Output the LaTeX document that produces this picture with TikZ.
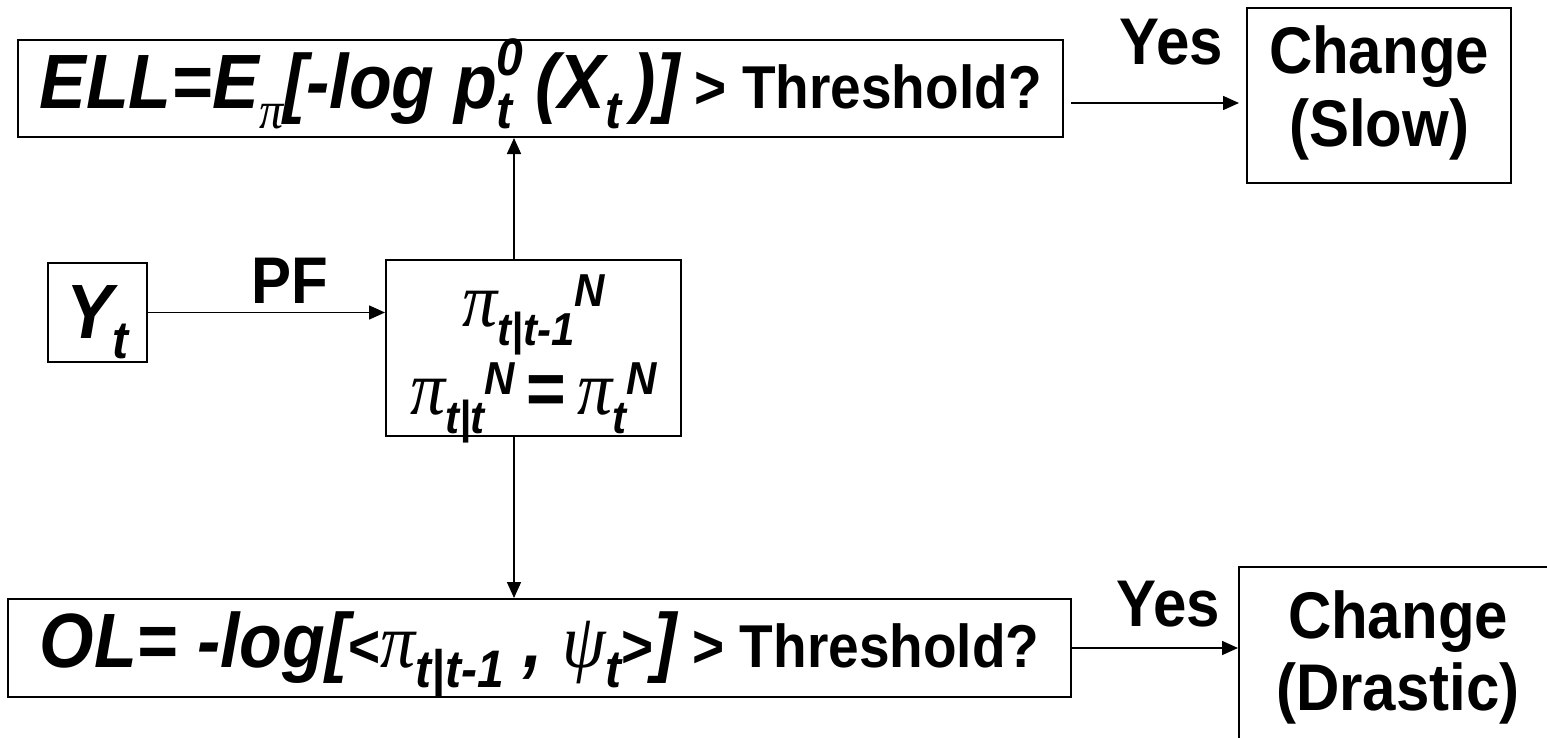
\documentclass[tikz,border=0pt]{standalone}
\usepackage{graphicx}
\usepackage{fontspec}
\setmainfont{Liberation Sans}
\newfontfamily\grk{Liberation Serif}
\usetikzlibrary{arrows.meta,calc}

\newcommand{\tall}[1]{\scalebox{1}[1.1]{#1}}
\newcommand{\itbig}{\fontsize{35}{36}\selectfont\itshape}
\newcommand{\rmsm}{\fontsize{27.5}{33}\selectfont\upshape}
\newcommand{\subsz}{24}
\newcommand{\lo}[1]{\raisebox{-0.3em}[0pt][0pt]{\fontsize{\subsz}{\subsz}\selectfont\itshape #1}}
\newcommand{\hi}[2][0.5em]{\raisebox{#1}[0pt][0pt]{\fontsize{\subsz}{\subsz}\selectfont\itshape #2}}
\newcommand{\gpi}{{\grk\itshape\mdseries π}}
\newcommand{\gpsi}{{\grk\itshape\mdseries ψ}}

\begin{document}
\begin{tikzpicture}[x=0.5pt,y=-0.5pt,
  box/.style={draw, line width=1pt, inner sep=0pt, align=center},
  arr/.style={-{Triangle[length=8pt,width=7pt]}, line width=0.8pt},
  lbl/.style={inner sep=0pt},
  every node/.style={font=\bfseries\fontsize{30}{33}\selectfont}]
  \useasboundingbox (0,0) rectangle (1547,738);
  \clip (0,0) rectangle (1547,738);

  % boxes
  \node[box, minimum width=522.5pt, minimum height=48.5pt] (ell) at (540.5,88.5)
    {\tall{{\itbig ELL=E}\lo{\gpi}{\itbig [-log p}\rlap{\lo{t}}\hi{0}{\itbig \,(X}\lo{t}{\itbig \,)]}{\rmsm\ > Threshold?}}};
  \node[box, minimum width=132pt, minimum height=87.5pt] (slow) at (1379,95.5)
    {\tall{\begin{tabular}{@{}c@{}}Change\\(Slow)\end{tabular}}};
  \node[box, minimum width=49.5pt, minimum height=49.5pt] (yt) at (97.5,312.5)
    {\tall{{\itbig Y}\lo{t}}};
  \node[box, minimum width=147.5pt, minimum height=87pt] (pi) at (533.5,348)
    {\renewcommand{\subsz}{21}\tall{\begin{tabular}{@{}c@{}}
      \rule{0pt}{30pt}{\itbig\gpi}\lo{t|t-1}\hi[0.3em]{N}\\[7pt]
      {\itbig\gpi}\lo{t|t}\hi[0.3em]{N}{\fontsize{34}{36}\selectfont\,=\,}{\itbig\gpi}\lo{t}\hi[0.3em]{N}
    \end{tabular}}};
  \node[box, minimum width=531.5pt, minimum height=49pt] (ol) at (539.5,648)
    {\tall{{\itbig OL= -log[}{\rmsm <}{\itbig\gpi}\lo{t|t-1}{\itbig\ ,\ }{\itbig\gpsi}\lo{t}{\rmsm >}{\itbig ]}{\rmsm\ > Threshold?}}};
  \node[box, minimum width=159pt, minimum height=93pt] (drastic) at (1398,660)
    {\tall{\begin{tabular}{@{}c@{}}Change\\(Drastic)\end{tabular}}};

  % connectors
  \draw[arr] (yt.east) -- (yt.east -| pi.west)
    node[lbl, pos=0.6, above=4pt] {\tall{PF}};
  \draw[arr] ([xshift=-9.75pt]pi.north) -- ([xshift=-9.75pt]pi.north |- ell.south);
  \draw[arr] ([xshift=-9.75pt]pi.south) -- ([xshift=-9.75pt]pi.south |- ol.north);
  \draw[arr, shorten <=3.5pt, shorten >=3.5pt] ([yshift=-7.25pt]ell.east) -- ([yshift=-7.25pt]ell.east -| slow.west)
    node[lbl, pos=0.59, above=18.5pt] {\tall{Yes}};
  \draw[arr] (ol.east) -- (ol.east -| drastic.west)
    node[lbl, pos=0.58, above=10pt] {\tall{Yes}};
\end{tikzpicture}
\end{document}
